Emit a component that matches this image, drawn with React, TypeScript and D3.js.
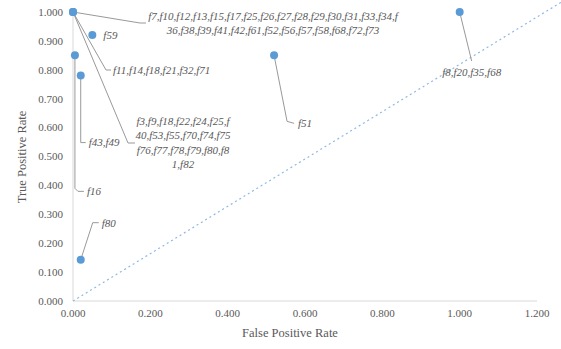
import React from "react";
import * as d3 from "d3";

// features scored as (false positive rate, true positive rate)
const fpr = [0, 0.05, 0, 0, 0.02, 0.005, 0.02, 0.52, 1.0];
const tpr = [1.0, 0.92, 1.0, 1.0, 0.78, 0.85, 0.143, 0.85, 1.0];
const featureLabels = [
  [
    "f7,f10,f12,f13,f15,f17,f25,f26,f27,f28,f29,f30,f31,f33,f34,f",
    "36,f38,f39,f41,f42,f61,f52,f56,f57,f58,f68,f72,f73",
  ],
  ["f59"],
  ["f11,f14,f18,f21,f32,f71"],
  ["f3,f9,f18,f22,f24,f25,f", "40,f53,f55,f70,f74,f75", "f76,f77,f78,f79,f80,f8", "1,f82"],
  ["f43,f49"],
  ["f16"],
  ["f80"],
  ["f51"],
  ["f8,f20,f35,f68"],
];

// random-guess reference line
const refX = [0, 1.27];
const refY = [0, 1.04];

const xTicks = [0, 0.2, 0.4, 0.6, 0.8, 1.0, 1.2];
const yTicks = [0, 0.1, 0.2, 0.3, 0.4, 0.5, 0.6, 0.7, 0.8, 0.9, 1.0];

// label placement relative to its point (pixels)
const placement = [
  { dx: 200, dy: 4, anchor: "middle", leader: [[67, 11], [73, 11]] },
  { dx: 11, dy: 0, anchor: "start", leader: [] },
  { dx: 40, dy: 58, anchor: "start", leader: [[33, 58], [38, 58]] },
  { dx: 110, dy: 109, anchor: "middle", leader: [[55, 131], [62, 131]] },
  { dx: 8, dy: 67, anchor: "start", leader: [[0, 67], [5, 67]] },
  { dx: 12, dy: 136, anchor: "start", leader: [[0, 133], [3, 136], [9, 136]] },
  { dx: 21, dy: -37, anchor: "start", leader: [[12, -37], [18, -37]] },
  { dx: 24, dy: 68, anchor: "start", leader: [[13, 66], [20, 68]] },
  { dx: 12, dy: 60, anchor: "middle", leader: [[12, 49]] },
];

const W = 561;
const H = 349;
const font = "'Liberation Serif', 'Times New Roman', serif";

export default function App() {
  const x = d3.scaleLinear().domain([0, 1.2]).range([73, 537]);
  const y = d3.scaleLinear().domain([0, 1]).range([301, 12]);
  const line = d3.line<number[]>().x(d => d[0]).y(d => d[1]);
  const fmt = d3.format(".3f");

  return (
    <svg width={W} height={H} style={{ position: "fixed", left: 0, top: 0, background: "#fff" }}>
      {/* axes */}
      <line x1={x(0)} x2={x(1.2)} y1={y(0)} y2={y(0)} stroke="#d9d9d9" />
      <line x1={x(0)} x2={x(0)} y1={y(0)} y2={y(1)} stroke="#d9d9d9" />

      {yTicks.map(t => (
        <text key={"y" + t} x={63} y={y(t)} dy="0.35em" textAnchor="end" fontFamily={font} fontSize={11} fill="#595959">
          {fmt(t)}
        </text>
      ))}
      {xTicks.map(t => (
        <text key={"x" + t} x={x(t)} y={317} textAnchor="middle" fontFamily={font} fontSize={11} fill="#595959">
          {fmt(t)}
        </text>
      ))}

      <text x={290} y={337} textAnchor="middle" fontFamily={font} fontSize={12.5} fill="#595959">
        False Positive Rate
      </text>
      <text transform={`translate(26,157) rotate(-90)`} textAnchor="middle" fontFamily={font} fontSize={12.5} fill="#595959">
        True Positive Rate
      </text>

      {/* diagonal */}
      <path
        d={line(refX.map((v, i) => [x(v), y(refY[i])])) || ""}
        fill="none"
        stroke="#8fb9e3"
        strokeWidth={1.2}
        strokeDasharray="2 3"
      />

      {/* leader lines */}
      {fpr.map((v, i) => {
        const px = x(v);
        const py = y(tpr[i]);
        const p = placement[i];
        if (!p.leader.length) return null;
        const pts = [[px, py], ...p.leader.map(d => [px + d[0], py + d[1]])];
        return <path key={"l" + i} d={line(pts) || ""} fill="none" stroke="#999" strokeWidth={1} />;
      })}

      {/* points */}
      {fpr.map((v, i) => (
        <circle key={"c" + i} cx={x(v)} cy={y(tpr[i])} r={4} fill="#5b9bd5" />
      ))}

      {/* labels */}
      {fpr.map((v, i) => {
        const p = placement[i];
        const lines = featureLabels[i];
        return (
          <text
            key={"t" + i}
            x={x(v) + p.dx}
            y={y(tpr[i]) + p.dy}
            textAnchor={p.anchor}
            fontFamily={font}
            fontStyle="italic"
            fontSize={11}
            fill="#595959"
          >
            {lines.map((s, j) => (
              <tspan key={j} x={x(v) + p.dx} dy={j === 0 ? "0.35em" : 14.5}>
                {s}
              </tspan>
            ))}
          </text>
        );
      })}
    </svg>
  );
}
